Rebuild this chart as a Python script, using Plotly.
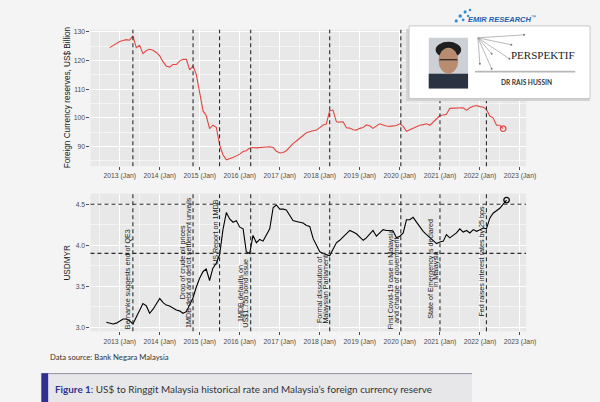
import pandas as pd
import plotly.graph_objects as go

# ---------------- Data ----------------
# foreign currency reserves, US$ billion, monthly Oct 2012 - Aug 2022
reserve_dates = pd.date_range("2012-10-01", "2022-08-01", freq="MS")
reserves = [
    124.5, 125.2, 126.0,
    126.6, 127.0, 127.3, 127.1, 128.6, 124.5, 125.3, 122.4, 123.5, 123.9, 123.6, 122.8,
    121.6, 119.5, 118.1, 117.7, 118.6, 118.6, 119.8, 120.4, 120.4, 116.7, 118.1, 115.1,
    109.3, 102.3, 100.8, 96.2, 97.4, 96.7, 90.6, 87.1, 85.3, 85.6, 86.1, 86.7,
    87.3, 88.2, 88.5, 89.4, 89.6, 89.5, 89.6, 89.7, 89.9, 89.9, 89.6, 88.3,
    87.7, 87.9, 88.5, 89.9, 91.0, 91.9, 93.0, 93.8, 94.8, 95.2, 95.5, 95.7,
    96.5, 97.5, 97.8, 102.5, 102.7, 98.6, 98.5, 98.6, 96.5, 96.4, 95.8, 95.7,
    96.3, 96.6, 97.5, 97.2, 96.3, 97.0, 97.9, 97.5, 97.1, 97.0, 97.1, 97.3,
    97.9, 97.0, 95.3, 95.9, 96.4, 96.8, 97.4, 97.6, 97.9, 97.4, 98.5, 99.8,
    100.8, 101.0, 101.2, 103.3, 103.4, 103.5, 103.5, 103.5, 102.6, 103.5, 104.0, 104.3,
    103.9, 103.7, 102.9, 100.6, 100.0, 97.4, 97.4, 96.2,
]

# USD/MYR, monthly Sep 2012 - Sep 2022
usdmyr_dates = pd.date_range("2012-09-01", "2022-09-01", freq="MS")
usdmyr = [
    3.06, 3.05, 3.04, 3.05,
    3.08, 3.10, 3.10, 3.08, 3.04, 3.13, 3.20, 3.29, 3.26, 3.17, 3.22, 3.28,
    3.35, 3.30, 3.27, 3.26, 3.23, 3.21, 3.20, 3.17, 3.19, 3.28, 3.36, 3.49,
    3.60, 3.68, 3.71, 3.57, 3.72, 3.78, 3.88, 4.19, 4.40, 4.32, 4.28, 4.30,
    4.22, 4.20, 3.92, 3.90, 4.12, 4.03, 4.07, 4.05, 4.12, 4.20, 4.46, 4.49,
    4.44, 4.44, 4.43, 4.37, 4.30, 4.29, 4.28, 4.27, 4.24, 4.23, 4.08, 4.01,
    3.92, 3.90, 3.89, 3.87, 3.95, 4.03, 4.06, 4.10, 4.14, 4.18, 4.16, 4.14,
    4.10, 4.06, 4.09, 4.13, 4.18, 4.11, 4.15, 4.19, 4.18, 4.18, 4.17, 4.09,
    4.11, 4.15, 4.31, 4.31, 4.34, 4.28, 4.23, 4.17, 4.13, 4.09, 4.05, 4.02,
    4.04, 4.05, 4.13, 4.09, 4.12, 4.15, 4.20, 4.16, 4.18, 4.15, 4.19, 4.17,
    4.19, 4.21, 4.20, 4.33, 4.39, 4.42, 4.45, 4.50, 4.55,
]

event_dates = ["2013-05-01", "2014-11-01", "2015-07-01", "2016-04-10",
               "2018-04-01", "2020-01-10", "2021-01-01", "2022-03-01"]
event_labels = [
    ["Bernanke suggests end of QE3"],
    ["Drop of crude oil prices", "1MDB debt and deficit settlement unveils"],
    ["US Report on 1MDB"],
    ["1MDB defaults on", "US$1.75b bond issue"],
    ["Formal dissolution of", "Malaysian Parliament"],
    ["First Covid-19 case in Malaysia", "and change of government"],
    ["State of Emergency is declared", "in Malaysia"],
    ["Fed raises interest rates by 25 bps"],
]
event_label_y = [3.59, 3.79, 4.16, 3.41, 3.46, 3.58, 3.71, 3.81]
usdmyr_refs = [4.5, 3.9]

years = list(range(2013, 2024))
year_ticks = [f"{y}-01-01" for y in years]
year_labels = [f"{y} (Jan)" for y in years]
mid_years = [f"{y}-07-01" for y in range(2012, 2023)]

W, H = 600, 402
FONT = "Liberation Sans, Arial, sans-serif"
GREY = "#4d4d4d"


def px(x):
    return x / W


def py(y):
    return 1 - y / H


# ---------------- Figure ----------------
fig = go.Figure()
fig.add_trace(go.Scatter(x=reserve_dates, y=reserves, mode="lines",
                         line=dict(color="#e2473f", width=1.1),
                         xaxis="x", yaxis="y", showlegend=False))
fig.add_trace(go.Scatter(x=[reserve_dates[-1]], y=[reserves[-1]], mode="markers",
                         marker=dict(symbol="circle-open", size=5.5, color="#e2473f",
                                     line=dict(width=1.3)),
                         xaxis="x", yaxis="y", showlegend=False))
fig.add_trace(go.Scatter(x=usdmyr_dates, y=usdmyr, mode="lines",
                         line=dict(color="black", width=1.1),
                         xaxis="x2", yaxis="y2", showlegend=False))
fig.add_trace(go.Scatter(x=[usdmyr_dates[-1]], y=[usdmyr[-1]], mode="markers",
                         marker=dict(symbol="circle-open", size=5.5, color="black",
                                     line=dict(width=1.3)),
                         xaxis="x2", yaxis="y2", showlegend=False))

xdom = [px(92), px(535)]
xrange = ["2012-04-09", "2023-02-26"]
grid = dict(showgrid=True, gridcolor="white", gridwidth=1.1, zeroline=False,
            showline=False, ticks="outside", ticklen=3, tickwidth=1,
            tickcolor=GREY, tickfont=dict(size=6.8, color=GREY, family=FONT))
xcommon = dict(grid, type="date", range=xrange, domain=xdom,
               tickmode="array", tickvals=year_ticks, ticktext=year_labels,
               minor=dict(tickvals=mid_years, showgrid=True, gridcolor="white",
                          gridwidth=0.5, ticks=""))

fig.update_layout(
    width=W, height=H,
    margin=dict(l=0, r=0, t=0, b=0),
    paper_bgcolor="#f4f4f4",
    plot_bgcolor="#e8e8e8",
    font=dict(family=FONT, color="#1a1a1a"),
    xaxis=dict(xcommon, anchor="y"),
    yaxis=dict(grid, domain=[py(165), py(28)], range=[83.1, 130.7], anchor="x",
               tickmode="array", tickvals=[90, 100, 110, 120, 130],
               minor=dict(tickvals=[85, 95, 105, 115, 125], showgrid=True,
                          gridcolor="white", gridwidth=0.5, ticks="")),
    xaxis2=dict(xcommon, anchor="y2"),
    yaxis2=dict(grid, domain=[py(331), py(192.5)], range=[2.95, 4.63], anchor="x2",
                tickmode="array", tickvals=[3.0, 3.5, 4.0, 4.5],
                ticktext=["3.0", "3.5", "4.0", "4.5"],
                minor=dict(tickvals=[3.25, 3.75, 4.25], showgrid=True,
                           gridcolor="white", gridwidth=0.5, ticks="")),
)

# event lines
dash = dict(color="#2b2b2b", width=1.1, dash="4px,3px")
for d in event_dates:
    fig.add_shape(type="line", xref="x", yref="y domain", x0=d, x1=d, y0=0, y1=1,
                  line=dash, layer="above")
    fig.add_shape(type="line", xref="x2", yref="y2 domain", x0=d, x1=d, y0=0, y1=1,
                  line=dash, layer="above")
for r in usdmyr_refs:
    fig.add_shape(type="line", xref="x2 domain", yref="y2", x0=0, x1=1, y0=r, y1=r,
                  line=dash, layer="above")

# event labels, rotated, left of each line
for d, lines, yv in zip(event_dates, event_labels, event_label_y):
    n = len(lines)
    for i, txt in enumerate(lines):
        fig.add_annotation(x=d, y=yv, xref="x2", yref="y2", text=txt,
                           textangle=-90, showarrow=False,
                           xanchor="center", yanchor="middle",
                           xshift=-4.6 - 5.6 * (n - 1 - i),
                           font=dict(size=7.2, color="#1a1a1a", family=FONT))


def label(x, y, text, size, color="#1a1a1a", family=FONT, anchor="center", angle=0):
    fig.add_annotation(x=px(x), y=py(y), xref="paper", yref="paper", text=text,
                       textangle=angle, showarrow=False,
                       xanchor=anchor, yanchor="middle",
                       font=dict(size=size, color=color, family=family))


# axis titles
label(69, 96, "Foreign Currency reserves, US$ Billion", 8.2, angle=-90)
label(69, 262, "USDMYR", 8.2, angle=-90)

# ---------------- Overlay card ----------------
def rect(x0, y0, x1, y1, fill, line=None, kind="rect"):
    fig.add_shape(type=kind, xref="paper", yref="paper",
                  x0=px(x0), x1=px(x1), y0=py(y1), y1=py(y0),
                  fillcolor=fill, line=line or dict(width=0), layer="above")


def seg(x0, y0, x1, y1, color, width):
    fig.add_shape(type="line", xref="paper", yref="paper",
                  x0=px(x0), x1=px(x1), y0=py(y0), y1=py(y1),
                  line=dict(color=color, width=width), layer="above")


rect(413, 27, 600, 99.5, "#d2d2d2")
rect(416, 24, 600, 97, "white", dict(color="#c8c8c8", width=1))

# photo placeholder
rect(436, 36, 476, 87, "#cdd1d5")
rect(436, 72, 476, 87, "#2b3342")
rect(443, 40, 469, 56, "#1f1f22", kind="circle")
rect(446, 46, 466, 72, "#b98c70", kind="circle")
seg(447, 58, 465, 58, "#222", 1.2)

# radiating lines
for ex, ey in [(533, 33), (520, 43), (518, 57), (500, 52), (500, 67), (488, 62)]:
    seg(486, 36, ex, ey, "#8a8a8a", 0.6)
    rect(ex - 1, ey - 1, ex + 1, ey + 1, "#777", kind="circle")
seg(483, 70, 585, 70, "#b8b8b8", 1.6)

label(552, 53, "PERSPEKTIF", 11, color="#222", family="Liberation Serif, serif")
label(535, 80.5, "<b>DR RAIS HUSSIN</b>", 6.6, color="#333", family="Lato, sans-serif")

# logo
for cx, cy, r in [(464, 19, 1.6), (468, 14, 1.8), (473, 10, 1.6), (478, 8, 1.3),
                  (471, 18, 1.4), (476, 14, 1.2)]:
    rect(cx - r, cy - r, cx + r, cy + r, "#2a8fd6", kind="circle")
label(474, 17, "<b><i>EMIR RESEARCH</i></b><sup>™</sup>", 7.5, color="#1f5fad", anchor="left")

# ---------------- Footer ----------------
label(49, 357, "Data source: Bank Negara Malaysia", 7.7, color="#333",
      family="Lato, sans-serif", anchor="left")
rect(42, 373, 480, 402, "#e7e7ea")
seg(49, 373.5, 480, 373.5, "#8e8ea0", 1)
rect(42, 373, 49, 402, "#2e3192")
label(54, 389,
      "<span style='color:#2e3192'><b>Figure 1</b></span>: US$ to Ringgit Malaysia "
      "historical rate and Malaysia’s foreign currency reserve",
      9.9, color="#333", family="Lato, sans-serif", anchor="left")

fig.write_html("out.html", config={"displayModeBar": False, "staticPlot": True},
               post_script="document.body.style.margin='0px';")
